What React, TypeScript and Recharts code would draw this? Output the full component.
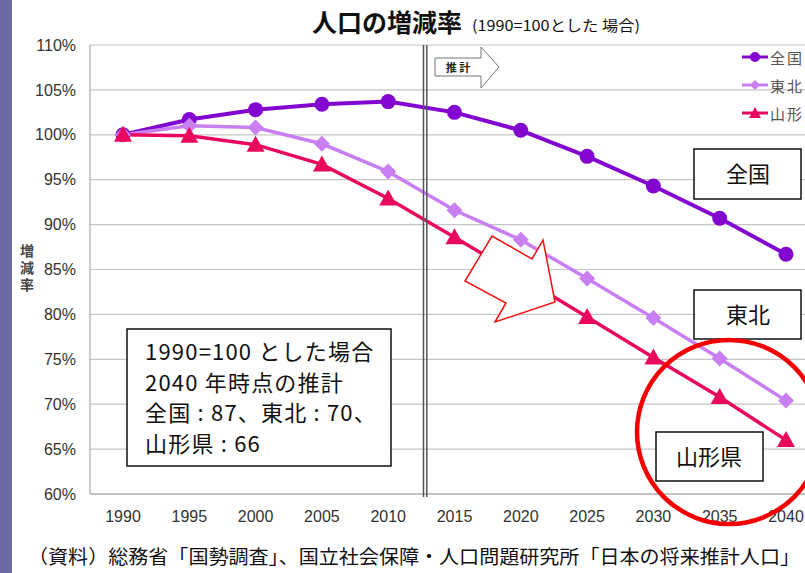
import React from 'react';
import { LineChart, Line, XAxis, YAxis, CartesianGrid, Legend } from 'recharts';

// Population change index (1990 = 100)
const years = ['1990', '1995', '2000', '2005', '2010', '2015', '2020', '2025', '2030', '2035', '2040'];
const zenkoku = [100, 101.7, 102.8, 103.4, 103.7, 102.5, 100.5, 97.6, 94.3, 90.7, 86.7];
const tohoku = [100, 101.0, 100.8, 99.0, 95.9, 91.6, 88.3, 84.0, 79.6, 75.1, 70.4];
const yamagata = [100, 99.9, 98.9, 96.7, 92.9, 88.6, 84.2, 79.7, 75.2, 70.8, 66.0];
const yTicks = [60, 65, 70, 75, 80, 85, 90, 95, 100, 105, 110];

const data = years.map((y, i) => ({
  year: y,
  zenkoku: zenkoku[i],
  tohoku: tohoku[i],
  yamagata: yamagata[i],
}));

const C_ZENKOKU = '#8206cf';
const C_TOHOKU = '#c97ff2';
const C_YAMAGATA = '#e8085e';
const JP = "'Noto Sans CJK JP', sans-serif";
const LAT = "'Liberation Sans', Arial, 'Noto Sans CJK JP', sans-serif";

const circleDot = (p: any) => (
  <circle key={`c${p.index}`} cx={p.cx} cy={p.cy} r={7.5} fill={C_ZENKOKU} />
);
const diamondDot = (p: any) => (
  <polygon
    key={`d${p.index}`}
    points={`${p.cx},${p.cy - 8} ${p.cx + 8},${p.cy} ${p.cx},${p.cy + 8} ${p.cx - 8},${p.cy}`}
    fill={C_TOHOKU}
  />
);
const triangleDot = (p: any) => (
  <polygon
    key={`t${p.index}`}
    points={`${p.cx},${p.cy - 9} ${p.cx + 9},${p.cy + 7} ${p.cx - 9},${p.cy + 7}`}
    fill={C_YAMAGATA}
  />
);

const legendItems = [
  { name: '全国', color: C_ZENKOKU, shape: 'circle' },
  { name: '東北', color: C_TOHOKU, shape: 'diamond' },
  { name: '山形県', color: C_YAMAGATA, shape: 'triangle' },
];

const LegendContent = () => (
  <div style={{ fontFamily: JP, fontSize: 15, color: '#555' }}>
    {legendItems.map((it) => (
      <div key={it.name} style={{ display: 'flex', alignItems: 'center', height: 28, whiteSpace: 'nowrap' }}>
        <svg width={26} height={14} style={{ marginRight: 2 }}>
          <line x1={0} y1={7} x2={26} y2={7} stroke={it.color} strokeWidth={3} />
          {it.shape === 'circle' && <circle cx={13} cy={7} r={5} fill={it.color} />}
          {it.shape === 'diamond' && <polygon points="13,2 18,7 13,12 8,7" fill={it.color} />}
          {it.shape === 'triangle' && <polygon points="13,1 19,12 7,12" fill={it.color} />}
        </svg>
        <span>
          {Array.from(it.name).map((ch, i) => (
            <span key={i} style={{ marginRight: i < it.name.length - 1 ? 2 : 0 }}>{ch}</span>
          ))}
        </span>
      </div>
    ))}
  </div>
);

export default function App() {
  return (
    <div
      style={{
        position: 'fixed',
        left: 0,
        top: 0,
        width: 805,
        height: 573,
        overflow: 'hidden',
        background: '#fff',
      }}
    >
      <div style={{ position: 'absolute', left: 0, top: 0 }}>
        <LineChart
          width={830}
          height={573}
          data={data}
          margin={{ top: 45, right: 11, left: 8, bottom: 49 }}
        >
          <CartesianGrid vertical={false} stroke="#c6c6c6" strokeWidth={1.2} />
          <XAxis
            dataKey="year"
            padding={{ left: 33, right: 33 }}
            height={30}
            tickLine={false}
            tickMargin={11}
            axisLine={{ stroke: '#b8b8b8', strokeWidth: 1.5 }}
            tick={{ fontSize: 16, fill: '#333', fontFamily: LAT }}
            interval={0}
          />
          <YAxis
            width={82}
            domain={[60, 110]}
            ticks={yTicks}
            tickFormatter={(v: number) => `${v}%`}
            tickLine={false}
            tickMargin={8}
            axisLine={{ stroke: '#b8b8b8', strokeWidth: 1.5 }}
            tick={{ fontSize: 16, fill: '#333', fontFamily: LAT }}
            interval={0}
          />
          <Legend
            layout="vertical"
            align="center"
            verticalAlign="middle"
            content={<LegendContent />}
            wrapperStyle={{ position: 'absolute', left: 742, top: 43, width: 100, height: 90 }}
          />
          <Line
            name="全国"
            dataKey="zenkoku"
            stroke={C_ZENKOKU}
            strokeWidth={4}
            dot={circleDot}
            activeDot={false}
            isAnimationActive={false}
          />
          <Line
            name="東北"
            dataKey="tohoku"
            stroke={C_TOHOKU}
            strokeWidth={3.5}
            dot={diamondDot}
            activeDot={false}
            isAnimationActive={false}
          />
          <Line
            name="山形県"
            dataKey="yamagata"
            stroke={C_YAMAGATA}
            strokeWidth={3.5}
            dot={triangleDot}
            activeDot={false}
            isAnimationActive={false}
          />
        </LineChart>
      </div>

      <svg
        width={805}
        height={573}
        style={{ position: 'absolute', left: 0, top: 0, pointerEvents: 'none' }}
      >
        {/* side band */}
        <rect x={0} y={0} width={12} height={573} fill="#6a69a6" />

        {/* title */}
        <text x={312} y={32} fontFamily={JP} fontSize={25} fontWeight={700} fill="#111">
          人口の増減率
        </text>
        <text
          x={472}
          y={31}
          fontFamily={JP}
          fontSize={15}
          fill="#111"
          textLength={168}
          lengthAdjust="spacingAndGlyphs"
        >
          (1990=100とした 場合)
        </text>

        {/* vertical axis caption */}
        <text
          x={27}
          y={244}
          fontFamily={JP}
          fontSize={14}
          fontWeight={700}
          fill="#444"
          style={{ writingMode: 'vertical-rl' as any }}
          letterSpacing={3}
        >
          増減率
        </text>

        {/* boundary between actual and projected */}
        <line x1={423.5} y1={45} x2={423.5} y2={497} stroke="#555" strokeWidth={1.5} />
        <line x1={426.8} y1={45} x2={426.8} y2={497} stroke="#555" strokeWidth={1.5} />

        {/* projection marker */}
        <polygon
          points="435,58 481,58 481,47 499,67 481,88 481,76 435,76"
          fill="#fff"
          stroke="#777"
          strokeWidth={1}
        />
        <text x={458} y={71.5} fontFamily={JP} fontSize={11} fontWeight={700} fill="#222" textAnchor="middle">
          推 計
        </text>

        {/* downward arrow */}
        <polygon
          points="465,281 492,236 532,259 543,240 555,302 495,322 506,303"
          fill="#fff"
          stroke="#f21010"
          strokeWidth={1.5}
        />

        {/* summary box */}
        <rect x={127} y={329} width={264} height={137} fill="#fff" stroke="#111" strokeWidth={1.5} />
        <g fontFamily={JP} fontSize={22} fill="#111" letterSpacing={1.2}>
          <text x={145} y={360}>1990=100 とした場合</text>
          <text x={145} y={391}>2040 年時点の推計</text>
          <text x={145} y={421}>全国 : 87、東北 : 70、</text>
          <text x={145} y={452}>山形県 : 66</text>
        </g>

        {/* series labels */}
        <rect x={694} y={149} width={107} height={50} fill="#fff" stroke="#111" strokeWidth={1.5} />
        <text x={748} y={182} fontFamily={JP} fontSize={22} fill="#111" textAnchor="middle">全国</text>
        <rect x={694} y={290} width={107} height={49} fill="#fff" stroke="#111" strokeWidth={1.5} />
        <text x={748} y={323} fontFamily={JP} fontSize={22} fill="#111" textAnchor="middle">東北</text>

        <ellipse cx={729} cy={432} rx={92} ry={92} fill="none" stroke="#f40000" strokeWidth={4.5} />

        <rect x={656} y={432} width={107} height={49} fill="#fff" stroke="#111" strokeWidth={1.5} />
        <text x={709} y={465} fontFamily={JP} fontSize={22} fill="#111" textAnchor="middle">山形県</text>

        {/* source */}
        <text
          x={28}
          y={564}
          fontFamily={JP}
          fontSize={19}
          fill="#111"
          textLength={772}
          lengthAdjust="spacingAndGlyphs"
        >
          （資料）総務省「国勢調査」、国立社会保障・人口問題研究所「日本の将来推計人口」
        </text>
      </svg>
    </div>
  );
}
